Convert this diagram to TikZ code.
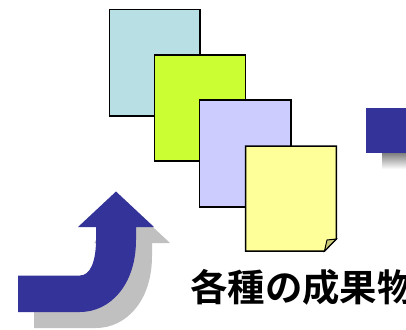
\documentclass[tikz,border=0pt]{standalone}
\usepackage{fontspec}
\newfontfamily\cjk{Noto Sans CJK JP Bold}
\definecolor{navy}{RGB}{51,51,153}
\definecolor{shade}{RGB}{192,192,192}
\tikzset{
  sheet/.style={draw=black,line width=1.5pt,line join=miter,inner sep=0pt,outer sep=0pt,anchor=north west},
  arrowshape/.pic={
    \path[pic actions] (18,275.5) -- (80,275.5)
      .. controls (90,275.5) and (96,262) .. (96,240)
      -- (96,227) -- (78,227) -- (116,191.5) -- (154,227) -- (136,227) -- (136,240)
      .. controls (136,285) and (110,312) .. (80,312)
      -- (18,312) -- cycle;
  }
}
\begin{document}
\begin{tikzpicture}[x=1pt,y=-1pt]
\useasboundingbox (0,0) rectangle (406,329);
\clip (0,0) rectangle (406,329);
% arrow
\pic[fill=shade] at (16,16) {arrowshape};
\pic[fill=navy] at (0,0) {arrowshape};
% right square
\fill[shade] (382,153) rectangle (406,169);
\fill[navy] (366,108) rectangle (406,153.3);
% sheets
\node[sheet,fill={rgb,255:red,184;green,223;blue,227},minimum width=90.5pt,minimum height=106.5pt] (a) at (109.3,9.3) {};
\node[sheet,fill={rgb,255:red,204;green,255;blue,51},minimum width=91pt,minimum height=106pt] (b) at (154.3,55) {};
\node[sheet,fill={rgb,255:red,204;green,204;blue,255},minimum width=91.5pt,minimum height=107pt] (c) at (199.5,100) {};
\path[draw=black,line width=1.5pt,line join=miter,fill={rgb,255:red,255;green,255;blue,153}] (245.5,146) -- (336.3,146) -- (336.3,239) -- (324.5,251) -- (245.5,251) -- cycle;
\path[draw=black,line width=1pt,line join=miter,fill={rgb,255:red,204;green,204;blue,122}] (324.5,251) -- (327,240) -- (336.3,239) -- cycle;
% label
\node[inner sep=0pt,anchor=base west] (t) at (190,301) {\cjk\fontsize{37.4pt}{37.4pt}\selectfont 各種の成果物};
\end{tikzpicture}
\end{document}
